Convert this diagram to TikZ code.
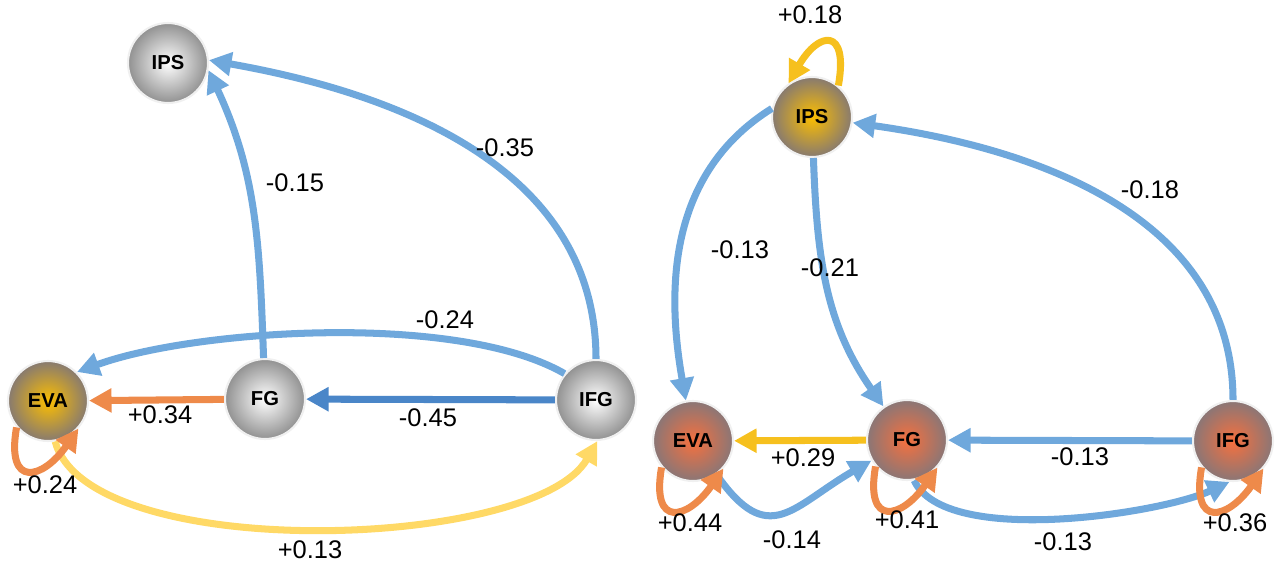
\documentclass[tikz,border=0pt]{standalone}
\usepackage{fontspec}
\setmainfont{Liberation Sans}
\usetikzlibrary{arrows.meta}
\definecolor{eblue}{RGB}{111,168,220}
\definecolor{dblue}{RGB}{74,134,200}
\definecolor{eorange}{RGB}{238,138,74}
\definecolor{lyellow}{RGB}{255,217,102}
\definecolor{egold}{RGB}{246,192,30}
\definecolor{ballgray}{RGB}{145,145,145}
\definecolor{balledge}{RGB}{135,122,112}
\definecolor{ballyellow}{RGB}{252,190,0}
\definecolor{ballorange}{RGB}{246,112,62}
\definecolor{balledgeb}{RGB}{138,118,118}

\begin{document}
\begin{tikzpicture}[x=0.02cm, y=0.02cm,
  ball/.style = {circle, minimum size=1.6cm, inner sep=0pt, draw=gray!12, line width=1.2pt, shading=radial, font=\fontsize{11.5}{13}\selectfont\bfseries},
  gball/.style = {ball, inner color=white, outer color=ballgray},
  yball/.style = {ball, inner color=ballyellow, outer color=balledge},
  oball/.style = {ball, inner color=ballorange, outer color=balledgeb},
  link/.style = {line width=4pt, -{Triangle[length=0.45cm,width=0.46cm]}},
  blink/.style = {link, eblue},
  dlink/.style = {link, dblue},
  olink/.style = {link, eorange},
  ylink/.style = {link, lyellow},
  golink/.style = {link, egold},
  lbl/.style = {font=\fontsize{14.5}{16}\selectfont}]
\useasboundingbox (0,0) rectangle (1280,566);

% left network
\node[gball] (lips) at (168,503) {IPS};
\node[yball] (leva) at (48,165) {EVA};
\node[gball] (lfg) at (265,167) {FG};
\node[gball] (lifg) at (596,166) {IFG};
\draw[blink] (lfg) to[out=92, in=-65] (lips.-10);
\draw[blink] (lifg) to[out=90, in=-10] (lips.4);
\draw[blink] (lifg.140) to[out=150, in=20, looseness=0.65] (leva.45);
\draw[dlink] (lifg) -- (lfg);
\draw[olink] (lfg) -- (leva);
\draw[ylink] (leva.-80) to[out=-75, in=-120, looseness=0.6] (lifg.-88);
\draw[olink] (leva.-140) to[out=-100, in=-125, distance=1.25cm] (leva.-42);
\node[lbl] (l1) at (295,383) {-0.15};
\node[lbl] (l2) at (505,418) {-0.35};
\node[lbl] (l3) at (445,246) {-0.24};
\node[lbl] (l4) at (428,148) {-0.45};
\node[lbl] (l5) at (160,151) {+0.34};
\node[lbl] (l6) at (45,81) {+0.24};
\node[lbl] (l7) at (310,16) {+0.13};

% right network
\node[yball] (rips) at (812,449) {IPS};
\node[oball] (reva) at (693,125) {EVA};
\node[oball] (rfg) at (907,126) {FG};
\node[oball] (rifg) at (1233,125) {IFG};
\draw[blink] (rips.168) to[out=212, in=100] (reva);
\draw[blink] (rips) to[out=-88, in=125] (rfg);
\draw[blink] (rifg) to[out=90, in=-8] (rips);
\draw[golink] (rfg) -- (reva);
\draw[blink] (rifg) -- (rfg);
\draw[blink] (reva) to[out=-55, in=-150, looseness=1.5] (rfg);
\draw[blink] (rfg.-80) to[out=-65, in=-155, looseness=0.6] (rifg.-95);
\draw[golink] (rips.50) to[out=80, in=60, distance=1.2cm] (rips.125);
\draw[olink] (reva.-140) to[out=-100, in=-125, distance=1.25cm] (reva.-42);
\draw[olink] (rfg.-140) to[out=-100, in=-125, distance=1.25cm] (rfg.-42);
\draw[olink] (rifg.-140) to[out=-100, in=-125, distance=1.25cm] (rifg.-42);
\node[lbl] (r1) at (810,551) {+0.18};
\node[lbl] (r2) at (740,316) {-0.13};
\node[lbl] (r3) at (830,298) {-0.21};
\node[lbl] (r4) at (1150,376) {-0.18};
\node[lbl] (r5) at (803,108) {+0.29};
\node[lbl] (r6) at (1080,109) {-0.13};
\node[lbl] (r7) at (792,26) {-0.14};
\node[lbl] (r8) at (1063,24) {-0.13};
\node[lbl] (r9) at (690,43) {+0.44};
\node[lbl] (r10) at (907,46) {+0.41};
\node[lbl] (r11) at (1235,43) {+0.36};
\end{tikzpicture}
\end{document}
